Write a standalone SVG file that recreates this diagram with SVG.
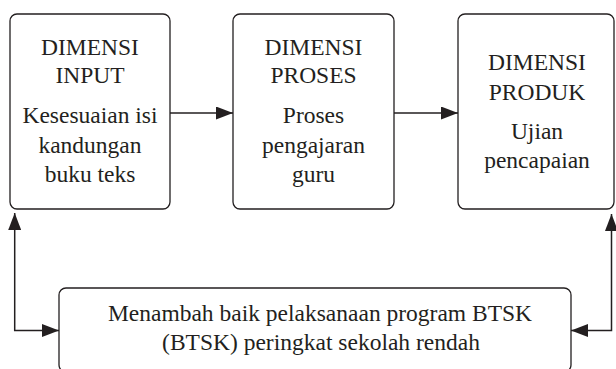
<svg xmlns="http://www.w3.org/2000/svg" width="616" height="369" viewBox="0 0 616 369">
<style>
.box{fill:#fff;stroke:#231f20;stroke-width:1.3}
text{font-family:'Liberation Serif','Times New Roman',Tinos,'DejaVu Serif',serif;font-size:23.5px;fill:#231f20;text-anchor:middle}
.c{fill:none;stroke:#231f20;stroke-width:1.5}
</style>
<defs>
<marker id="ah" viewBox="0 0 17 13" refX="17" refY="6.5" markerWidth="17" markerHeight="13" markerUnits="userSpaceOnUse" orient="auto-start-reverse">
<path d="M0,0 L17,6.5 L0,13 Z" fill="#231f20"/>
</marker>
</defs>
<rect width="616" height="369" fill="#fff"/>
<g id="input" font-family="Liberation Serif, serif">
<rect class="box" x="10" y="14" width="160" height="195" rx="7"/>
<text x="90" y="55">DIMENSI</text>
<text x="90" y="83">INPUT</text>
<text x="90" y="123">Kesesuaian isi</text>
<text x="90" y="153">kandungan</text>
<text x="90" y="182">buku teks</text>
</g>
<g id="proses" font-family="Liberation Serif, serif">
<rect class="box" x="233" y="14" width="161" height="195" rx="7"/>
<text x="313.5" y="55">DIMENSI</text>
<text x="313.5" y="83">PROSES</text>
<text x="313.5" y="123">Proses</text>
<text x="313.5" y="153">pengajaran</text>
<text x="313.5" y="182">guru</text>
</g>
<g id="produk" font-family="Liberation Serif, serif">
<rect class="box" x="458" y="14" width="156" height="195" rx="7"/>
<text x="537" y="70">DIMENSI</text>
<text x="537" y="100">PRODUK</text>
<text x="537" y="139">Ujian</text>
<text x="537" y="168">pencapaian</text>
</g>
<g id="tambah" font-family="Liberation Serif, serif">
<rect class="box" x="59" y="288" width="512" height="84" rx="7"/>
<text x="320" y="321">Menambah baik pelaksanaan program BTSK</text>
<text x="321" y="350">(BTSK) peringkat sekolah rendah</text>
</g>
<g id="connectors">
<line class="c" x1="170" y1="113" x2="233" y2="113" marker-end="url(#ah)"/>
<line class="c" x1="394" y1="113" x2="458" y2="113" marker-end="url(#ah)"/>
<polyline class="c" points="59,330.5 14.7,330.5 14.7,213" marker-start="url(#ah)" marker-end="url(#ah)"/>
<polyline class="c" points="571,330.5 611.5,330.5 611.5,214" marker-start="url(#ah)" marker-end="url(#ah)"/>
</g>
</svg>
